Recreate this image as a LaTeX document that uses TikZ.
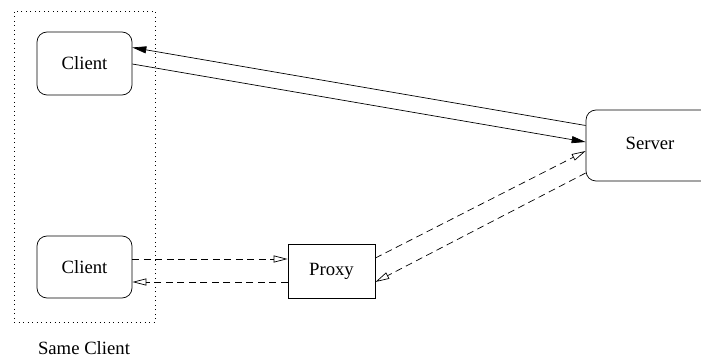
\documentclass[tikz,border=0pt]{standalone}
\usepackage{fontspec}
\setmainfont{Liberation Serif}
\usetikzlibrary{arrows.meta,calc}
\begin{document}
\begin{tikzpicture}[x=1pt,y=-1pt,
  every node/.style={font=\fontsize{18.7}{22}\selectfont, inner sep=0pt},
  rbox/.style={draw, line width=0.7pt, rounded corners=10pt},
  pbox/.style={draw, line width=0.7pt},
  solidarrow/.style={line width=0.7pt, -{Triangle[length=14pt,width=7pt]}},
  dasharrow/.style={line width=0.7pt, dash pattern=on 7pt off 4.5pt, -{Triangle[open,length=14pt,width=7pt]}},
  groupbox/.style={draw, line width=0.8pt, dash pattern=on 0.8pt off 3.7pt}
]
\clip (0,0) rectangle (701,358);
\node[groupbox, minimum width=141pt, minimum height=311pt] (grp) at (84.5,166.5) {};
\node at (84,348) (lbl) {Same Client};
\node[rbox, minimum width=95pt, minimum height=63pt] (c1) at (84.5,63.5) {Client};
\node[rbox, minimum width=95pt, minimum height=62pt] (c2) at (84.5,267) {Client};
\node[pbox, minimum width=87pt, minimum height=54pt] (proxy) at (331.5,271) {Proxy};
\node[rbox, minimum width=128pt, minimum height=71pt] (server) at (650,145.5) {};
\node at (650,143) (slbl) {Server};
\draw[solidarrow] ($(server.west)+(0,-20)$) -- ($(c1.east)+(0,-16)$);
\draw[solidarrow] ($(c1.east)+(0,0.5)$) -- ($(server.west)+(0,-3.5)$);
\draw[dasharrow] ($(c2.east)+(0,-8)$) -- ($(proxy.west)+(0,-12)$);
\draw[dasharrow] ($(proxy.west)+(0,11)$) -- ($(c2.east)+(0,15)$);
\draw[dasharrow] ($(proxy.east)+(0,-13)$) -- ($(server.west)+(0,5.5)$);
\draw[dasharrow] ($(server.west)+(0,27.5)$) -- ($(proxy.east)+(0,11)$);
\end{tikzpicture}
\end{document}
